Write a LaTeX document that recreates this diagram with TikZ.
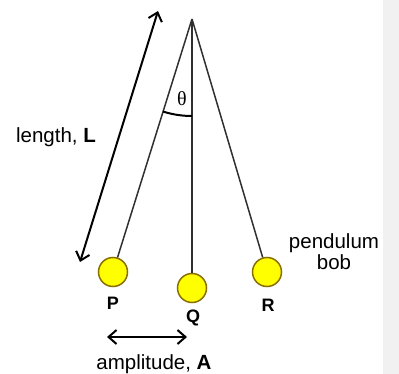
\documentclass[tikz,border=0pt]{standalone}
\usepackage{fontspec}
\setmainfont{Liberation Sans}
\newfontfamily\thetafont{Liberation Serif}
\usetikzlibrary{arrows.meta}
\definecolor{bobfill}{HTML}{FFFF00}
\definecolor{bobedge}{HTML}{8A6E00}
\definecolor{strcol}{HTML}{303030}
\definecolor{bandcol}{HTML}{F1F1F1}
\begin{document}
\begin{tikzpicture}[x=1pt,y=-1pt,
  bobstyle/.style={circle,draw=bobedge,line width=1.5pt,fill=bobfill,minimum size=29pt,inner sep=0pt},
  stringline/.style={draw=strcol,line width=1.5pt},
  dimarrow/.style={line width=2pt,{Straight Barb[length=8pt,width=14pt]}-{Straight Barb[length=8pt,width=14pt]}},
  lbl/.style={font=\fontsize{20.5}{22}\selectfont,inner sep=0pt},
  bobl/.style={font=\fontsize{18}{20}\selectfont\bfseries,inner sep=0pt}]
\useasboundingbox (0,0) rectangle (399,374);
\fill[bandcol] (383,0) rectangle (399,374);
\coordinate (pivot) at (192,19);
\node[bobstyle] (P) at (113,272) {};
\node[bobstyle] (Q) at (192,288) {};
\node[bobstyle] (R) at (267,272) {};
\draw[stringline] (pivot) -- (P);
\draw[stringline] (pivot) -- (Q);
\draw[stringline] (pivot) -- (R);
\draw[line width=2pt] (pivot) ++(107.5:97) arc[start angle=107.5,end angle=90,radius=97];
\node[font=\fontsize{20}{22}\selectfont\thetafont,inner sep=0pt] (theta) at (182,99) {θ};
\node[bobl] (Pl) at (113,303) {P};
\node[bobl] (Ql) at (193,318) {Q};
\node[bobl] (Rl) at (268,305) {R};
\coordinate (lenA) at (80,262);
\coordinate (lenB) at (158,11);
\draw[dimarrow] (lenA) -- (lenB);
\node[lbl] (lenlabel) at (56,137) {length, \textbf{L}};
\coordinate (ampA) at (107,337);
\coordinate (ampB) at (187,337);
\draw[dimarrow] (ampA) -- (ampB);
\node[lbl] (amplabel) at (154,364) {amplitude, \textbf{A}};
\node[lbl,align=center,font=\fontsize{20.5}{21}\selectfont] (boblabel) at (334,252) {pendulum\\bob};
\end{tikzpicture}
\end{document}
